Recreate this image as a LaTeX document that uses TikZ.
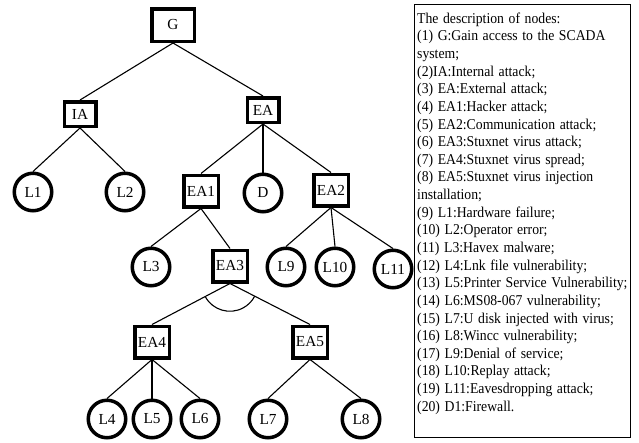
\documentclass[tikz,border=0pt]{standalone}
\usepackage{fontspec}
\setmainfont{Liberation Serif}
\usetikzlibrary{calc}
\begin{document}
\begin{tikzpicture}[x=1pt,y=1pt,
  labelfont/.style={font=\fontsize{15.3}{17.64}\selectfont},
  legendfont/.style={font=\fontsize{15}{17.64}\selectfont},
  event/.style={draw, rectangle, line width=3.5pt, inner sep=0pt, labelfont},
  gatebox/.style={event, minimum width=34.5pt, minimum height=31.5pt},
  smallbox/.style={event, minimum width=31.5pt, minimum height=24.5pt},
  topbox/.style={event, minimum width=42.5pt, minimum height=32.5pt},
  leaf/.style={draw, circle, line width=3.5pt, minimum size=37.5pt, inner sep=0pt, labelfont},
  edge/.style={line width=1.1pt}]
\useasboundingbox (0,0) rectangle (639,-442);

% events and gates
\node[topbox]   (G)   at (173,-25)  {G};
\node[smallbox] (IA)  at (80,-114)  {IA};
\node[smallbox] (EA)  at (263,-110) {EA};
\node[gatebox]  (EA1) at (201,-191) {EA1};
\node[gatebox]  (EA2) at (331,-190) {EA2};
\node[gatebox]  (EA3) at (230,-266) {EA3};
\node[gatebox]  (EA4) at (152,-342) {EA4};
\node[gatebox]  (EA5) at (310,-342) {EA5};

% basic events
\node[leaf] (L1)  at (33,-192)  {L1};
\node[leaf] (L2)  at (125,-192) {L2};
\node[leaf] (D)   at (263,-193) {D};
\node[leaf] (L3)  at (151,-267) {L3};
\node[leaf] (L9)  at (286,-267) {L9};
\node[leaf] (L10) at (335,-267) {L10};
\node[leaf] (L11) at (393,-269) {L11};
\node[leaf] (L4)  at (107,-419) {L4};
\node[leaf] (L5)  at (152,-419) {L5};
\node[leaf] (L6)  at (200,-419) {L6};
\node[leaf] (L7)  at (268,-419) {L7};
\node[leaf] (L8)  at (361,-419) {L8};

% connectors
\foreach \p/\c in {G/IA, G/EA, IA/L1, IA/L2, EA/EA1, EA/D, EA/EA2,
                   EA1/L3, EA1/EA3, EA2/L9, EA2/L10, EA2/L11,
                   EA3/EA4, EA3/EA5, EA4/L4, EA4/L5, EA4/L6, EA5/L7, EA5/L8}
  \draw[edge] (\p.south) -- (\c.north);

% AND-gate arc under EA3
\draw[edge] ($(EA3.south)!28pt!(EA4.north)$) arc[start angle=208.3, end angle=332.3, radius=28pt];

% description of nodes
\node[draw, line width=1pt, anchor=north west, minimum width=216pt, minimum height=433pt, inner sep=0pt] (legend) at (414,-4) {};
\node[anchor=north west, inner sep=0pt, text width=245pt, align=left, legendfont,
      xscale=0.915, transform shape] (desc) at (417,-12.4) {%
The description of nodes:\\
(1) G:Gain access to the SCADA\\
system;\\
(2)IA:Internal attack;\\
(3) EA:External attack;\\
(4) EA1:Hacker attack;\\
(5) EA2:Communication attack;\\
(6) EA3:Stuxnet virus attack;\\
(7) EA4:Stuxnet virus spread;\\
(8) EA5:Stuxnet virus injection\\
installation;\\
(9) L1:Hardware failure;\\
(10) L2:Operator error;\\
(11) L3:Havex malware;\\
(12) L4:Lnk file vulnerability;\\
(13) L5:Printer Service Vulnerability;\\
(14) L6:MS08-067 vulnerability;\\
(15) L7:U disk injected with virus;\\
(16) L8:Wincc vulnerability;\\
(17) L9:Denial of service;\\
(18) L10:Replay attack;\\
(19) L11:Eavesdropping attack;\\
(20) D1:Firewall.};
\end{tikzpicture}
\end{document}
